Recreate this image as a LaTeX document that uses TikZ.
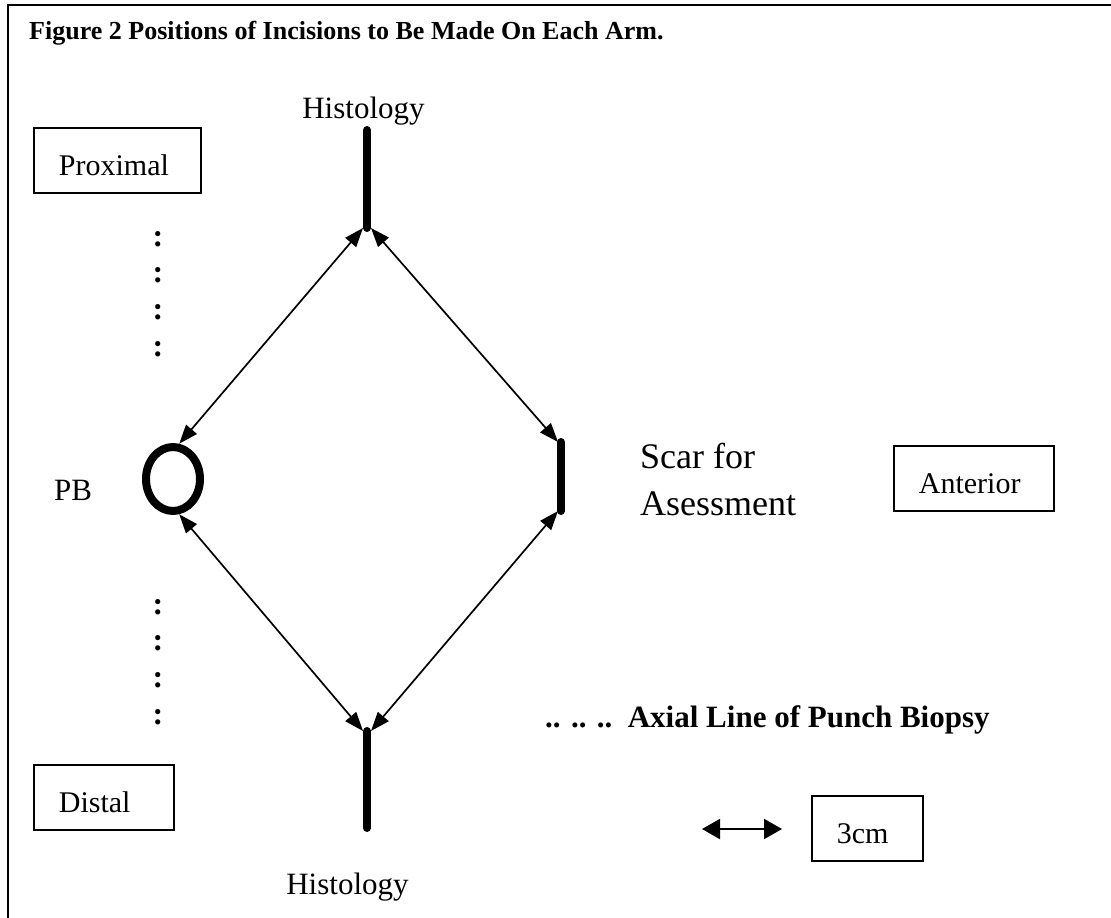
\documentclass[tikz,border=0pt]{standalone}
\usepackage{fontspec}
\setmainfont{Liberation Serif}
\usetikzlibrary{arrows.meta,shapes.geometric}
\tikzset{
  >={Triangle[length=19pt,width=14pt]},
  labelbox/.style={draw,line width=1.8pt,inner xsep=25pt,inner ysep=10pt,
    text height=37pt,text depth=8pt,align=left,font=\fontsize{30}{36}\selectfont},
  plain/.style={font=\fontsize{31}{37}\selectfont,inner sep=0pt},
  cut/.style={line width=8pt,line cap=round},
  link/.style={<->,line width=1.7pt},
  colon/.style={font=\bfseries\fontsize{32}{38}\selectfont,inner sep=0pt}
}
\begin{document}
\begin{tikzpicture}[x=1pt,y=-1pt]
\useasboundingbox (0,0) rectangle (1111,918);
\draw[line width=1.5pt] (8,918) -- (8,5) -- (1111,5);
\node[anchor=base west,inner sep=0pt,font=\bfseries\fontsize{26}{31}\selectfont] (title) at (29,39)
  {Figure 2 Positions of Incisions to Be Made On Each Arm.};
% incision sites
\node[plain,anchor=base] (histTop) at (363.5,118) {Histology};
\node[plain,anchor=base] (histBot) at (347.5,894) {Histology};
\node[plain,anchor=base] (pbLabel) at (73,500) {PB};
\node[draw,ellipse,line width=8pt,minimum width=54pt,minimum height=64pt,inner sep=0pt] (pb) at (173,479) {};
\coordinate (topA) at (367,130);
\coordinate (topB) at (367,228);
\coordinate (botA) at (367,731);
\coordinate (botB) at (367,828);
\coordinate (scarTop) at (561,442);
\coordinate (scarBot) at (561,511);
\draw[cut] (topA) -- (topB);
\draw[cut] (botA) -- (botB);
\draw[cut] (scarTop) -- (scarBot);
\draw[link] ([xshift=-4pt]topB) -- (pb.80);
\draw[link] ([xshift=4pt]topB) -- ([xshift=-3pt]scarTop);
\draw[link] (pb.-80) -- ([xshift=-4pt]botA);
\draw[link] ([xshift=-3pt]scarBot) -- ([xshift=4pt]botA);
\node[font=\fontsize{36}{43}\selectfont,anchor=base west,inner sep=0pt] (scarA) at (640,468) {Scar for};
\node[font=\fontsize{36}{43}\selectfont,anchor=base west,inner sep=0pt] (scarB) at (640,515) {Asessment};
% axial line
\foreach \y in {239,275,312,349,607,643,680,717}
  \node[colon] (dot\y) at (158,\y) {:};
\node[anchor=base west,inner sep=0pt,font=\bfseries\fontsize{31}{37}\selectfont] (axial) at (545,727)
  {.. .. ..\ \ Axial Line of Punch Biopsy};
% orientation boxes
\node[labelbox,text width=117pt,anchor=base west] (proximal) at (33,175) {Proximal};
\node[labelbox,text width=90pt,anchor=base west] (distal) at (33,812) {Distal};
\node[labelbox,text width=110pt,anchor=base west] (anterior) at (893,493) {Anterior};
\node[labelbox,text width=61pt,anchor=base west] (scale) at (811,843) {3cm};
\coordinate (legL) at (702,829);
\coordinate (legR) at (782,829);
\draw[<->,line width=2pt,>={Triangle[length=18pt,width=20pt]}] (legL) -- (legR);
\end{tikzpicture}
\end{document}
